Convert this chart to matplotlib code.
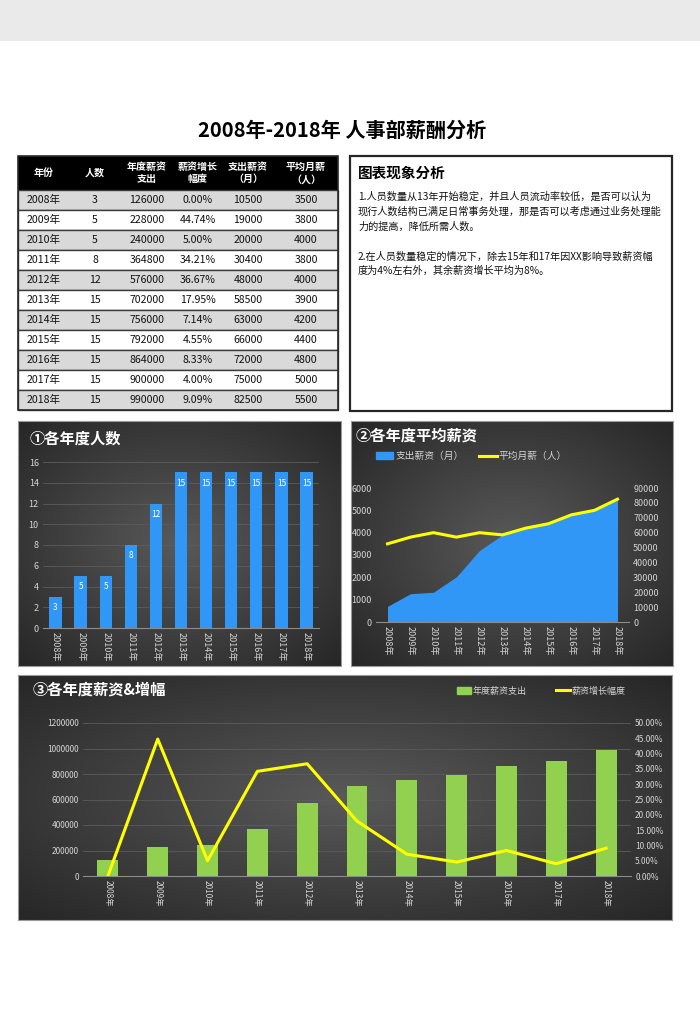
import numpy as np
import matplotlib.pyplot as plt
from matplotlib.patches import Rectangle, Patch
from matplotlib.lines import Line2D
from matplotlib.ticker import FuncFormatter

plt.rcParams['font.family'] = ['Noto Sans CJK SC', 'DejaVu Sans']

years = ['2008年', '2009年', '2010年', '2011年', '2012年', '2013年',
         '2014年', '2015年', '2016年', '2017年', '2018年']
headcount = [3, 5, 5, 8, 12, 15, 15, 15, 15, 15, 15]
annual_pay = [126000, 228000, 240000, 364800, 576000, 702000,
              756000, 792000, 864000, 900000, 990000]
growth_pct = [0.00, 44.74, 5.00, 34.21, 36.67, 17.95, 7.14, 4.55, 8.33, 4.00, 9.09]
monthly_pay = [10500, 19000, 20000, 30400, 48000, 58500,
               63000, 66000, 72000, 75000, 82500]
avg_monthly = [3500, 3800, 4000, 3800, 4000, 3900, 4200, 4400, 4800, 5000, 5500]

headers = ['年份', '人数', '年度薪资\n支出', '薪资增长\n幅度', '支出薪资\n（月）', '平均月薪\n（人）']

notes_title = '图表现象分析'
notes = ['1.人员数量从13年开始稳定，并且人员流动率较低，是否可以认为',
         '现行人数结构已满足日常事务处理，那是否可以考虑通过业务处理能',
         '力的提高，降低所需人数。',
         '',
         '2.在人员数量稳定的情况下，除去15年和17年因XX影响导致薪资幅',
         '度为4%左右外，其余薪资增长平均为8%。']

W, H = 700, 1030
fig = plt.figure(figsize=(W / 100, H / 100), dpi=100, facecolor='white')

BLUE = '#3097f7'
GREEN = '#92d050'
YELLOW = '#ffff00'
TICK = '#d4d4d4'


def px_rect(x0, y0, x1, y1):
    return [x0 / W, 1 - y1 / H, (x1 - x0) / W, (y1 - y0) / H]


def panel(x0, y0, x1, y1):
    bg = fig.add_axes(px_rect(x0, y0, x1, y1))
    gx, gy = np.meshgrid(np.linspace(-1, 1, 300), np.linspace(-1, 1, 300))
    r = np.clip(np.sqrt(gx ** 2 + gy ** 2) / np.sqrt(2), 0, 1)
    shade = 0.35 - 0.2 * r
    bg.imshow(np.dstack([shade] * 3), extent=[0, 1, 0, 1], aspect='auto')
    bg.set_xticks([])
    bg.set_yticks([])
    for s in bg.spines.values():
        s.set_color('#9a9a9a')
        s.set_linewidth(0.8)
    return bg


def style(ax, size=6.5):
    for side in ['top', 'left', 'right']:
        ax.spines[side].set_visible(False)
    ax.spines['bottom'].set_color('#8c8c8c')
    ax.patch.set_alpha(0)
    ax.tick_params(length=0, colors=TICK, labelsize=size, pad=3)


# --- page overlay (background band, title, table, notes) ---
ov = fig.add_axes([0, 0, 1, 1])
ov.set_xlim(0, W)
ov.set_ylim(H, 0)
ov.axis('off')
ov.add_patch(Rectangle((0, 0), W, 41, color='#eaeaea', lw=0))
ov.text(342, 130, '2008年-2018年 人事部薪酬分析', ha='center', va='center',
        fontsize=14.5, fontweight='bold', color='black')

tx0, tx1 = 18, 338
col_x = [44, 95, 147, 198, 248, 306]
ov.add_patch(Rectangle((tx0, 156), tx1 - tx0, 34, color='black', lw=0))
for cx, hd in zip(col_x, headers):
    ov.text(cx, 173, hd, ha='center', va='center', fontsize=7.2, color='white',
            fontweight='bold', linespacing=1.3)
for i, yr in enumerate(years):
    top = 190 + i * 20
    fc = '#d9d9d9' if i % 2 == 0 else 'white'
    ov.add_patch(Rectangle((tx0, top), tx1 - tx0, 20, facecolor=fc,
                           edgecolor='#3a3a3a', lw=1))
    row = [yr, headcount[i], annual_pay[i], f'{growth_pct[i]:.2f}%',
           monthly_pay[i], avg_monthly[i]]
    for cx, v in zip(col_x, row):
        ov.text(cx, top + 10, str(v), ha='center', va='center', fontsize=7.6,
                color='#111111')
ov.add_patch(Rectangle((tx0, 156), tx1 - tx0, 254, fill=False,
                       edgecolor='#2a2a2a', lw=1.2))

ov.add_patch(Rectangle((350, 156), 322, 255, facecolor='white',
                       edgecolor='#262626', lw=1.6))
ov.text(358, 173, notes_title, ha='left', va='center', fontsize=10.5,
        fontweight='bold', color='black')
for k, line in enumerate(notes):
    ov.text(358, 197 + k * 14.8, line, ha='left', va='center', fontsize=7.3,
            color='#111111')

x = np.arange(len(years))

# --- chart 1: headcount ---
panel(18, 421, 341, 666)
ax1 = fig.add_axes(px_rect(43, 462, 319, 628))
bars = ax1.bar(x, headcount, width=0.49, color=BLUE, zorder=3)
ax1.bar_label(bars, padding=-11, color='white', fontsize=6)
ax1.set_xlim(-0.5, 10.5)
ax1.set_ylim(0, 16)
ax1.set_yticks(range(0, 17, 2))
ax1.set_xticks(x, years, rotation=-90)
ax1.grid(axis='y', color='#5c5c5c', lw=0.6, zorder=0)
ax1.set_axisbelow(True)
style(ax1)
fig.text(30 / W, 1 - 439 / H, '①各年度人数', ha='left', va='center',
         fontsize=11, fontweight='bold', color='white')

# --- chart 2: monthly pay (area, right axis) and average pay (line, left axis) ---
panel(351, 421, 673, 666)
ax2 = fig.add_axes(px_rect(376, 488, 629, 622))
ax2r = ax2.twinx()
ax2r.fill_between(x, monthly_pay, color=BLUE, lw=0)
ax2.plot(x, avg_monthly, color=YELLOW, lw=2.2)
ax2.set_zorder(ax2r.get_zorder() + 1)
ax2.set_xlim(-0.5, 10.5)
ax2.set_ylim(0, 6000)
ax2r.set_ylim(0, 90000)
ax2.set_yticks(range(0, 6001, 1000))
ax2r.set_yticks(range(0, 90001, 10000))
ax2.set_xticks(x, years, rotation=-90)
style(ax2)
style(ax2r)
ax2r.spines['bottom'].set_visible(False)
fig.text(356 / W, 1 - 436 / H, '②各年度平均薪资', ha='left', va='center',
         fontsize=11, fontweight='bold', color='white')
fig.legend(handles=[Patch(color=BLUE, label='支出薪资（月）'),
                    Line2D([], [], color=YELLOW, lw=2.2, label='平均月薪（人）')],
           loc='center left', bbox_to_anchor=(372 / W, 1 - 456 / H), ncol=2,
           frameon=False, fontsize=7, labelcolor=TICK, handlelength=1.8,
           handletextpad=0.2, columnspacing=1.6, borderaxespad=0)

# --- chart 3: annual pay (bars) and growth (line) ---
panel(18, 675, 672, 920)
ax3 = fig.add_axes(px_rect(83, 723, 631, 876))
ax3r = ax3.twinx()
ax3.bar(x, annual_pay, width=0.42, color=GREEN, zorder=3)
ax3r.plot(x, growth_pct, color=YELLOW, lw=2.2)
ax3.set_xlim(-0.5, 10.5)
ax3.set_ylim(0, 1200000)
ax3r.set_ylim(0, 50)
ax3.set_yticks(range(0, 1200001, 200000))
ax3r.set_yticks(range(0, 51, 5))
ax3.yaxis.set_major_formatter(FuncFormatter(lambda v, _: f'{v:.0f}'))
ax3r.yaxis.set_major_formatter(FuncFormatter(lambda v, _: f'{v:.2f}%'))
ax3.set_xticks(x, years, rotation=-90)
ax3.grid(axis='y', color='#5c5c5c', lw=0.6, zorder=0)
ax3.set_axisbelow(True)
style(ax3, 6)
style(ax3r, 6)
ax3r.spines['bottom'].set_visible(False)
fig.text(33 / W, 1 - 690 / H, '③各年度薪资&增幅', ha='left', va='center',
         fontsize=11, fontweight='bold', color='white')
fig.legend(handles=[Patch(color=GREEN, label='年度薪资支出'),
                    Line2D([], [], color=YELLOW, lw=2.2, label='薪资增长幅度')],
           loc='center left', bbox_to_anchor=(453 / W, 1 - 691 / H), ncol=2,
           frameon=False, fontsize=6.5, labelcolor=TICK, handlelength=1.6,
           handletextpad=0.2, columnspacing=3.2, borderaxespad=0)

fig.savefig('out.png', dpi=100, facecolor='white')
